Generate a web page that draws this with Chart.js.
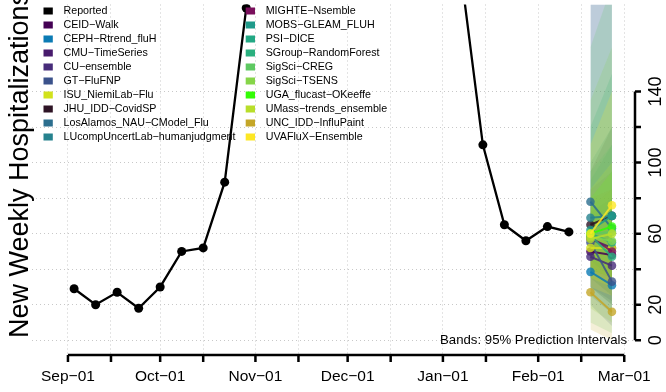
<!DOCTYPE html>
<html>
<head>
<meta charset="utf-8">
<script src="https://cdn.jsdelivr.net/npm/chart.js@4"></script>
<style>
  html, body { margin: 0; padding: 0; background: #fff; }
  #wrap { width: 666px; height: 392px; }
</style>
</head>
<body>
<div id="wrap"><canvas id="fluChart" width="666" height="392"></canvas></div>
<script>
// observed weekly hospitalizations
const reportedDates = [
  '2022-09-03', '2022-09-10', '2022-09-17', '2022-09-24', '2022-10-01', '2022-10-08',
  '2022-10-15', '2022-10-22', '2022-10-29', '2022-11-05', '2022-11-12', '2022-11-19',
  '2022-11-26', '2022-12-03', '2022-12-10', '2022-12-17', '2022-12-24', '2022-12-31',
  '2023-01-07', '2023-01-14', '2023-01-21', '2023-01-28', '2023-02-04', '2023-02-11'];
const reportedValues = [29, 20, 27, 18, 30, 50, 52, 89, 187, 310, 420, 480,
  450, 390, 330, 300, 310, 260, 205, 110, 65, 56, 64, 61];

// forecast targets (1 and 2 weeks ahead)
const forecastDates = ['2023-02-18', '2023-02-25'];

const models = ['CEID-Walk', 'CEPH-Rtrend_fluH', 'CMU-TimeSeries', 'CU-ensemble', 'GT-FluFNP',
  'ISU_NiemiLab-Flu', 'JHU_IDD-CovidSP', 'LosAlamos_NAU-CModel_Flu', 'LUcompUncertLab-humanjudgment',
  'MIGHTE-Nsemble', 'MOBS-GLEAM_FLUH', 'PSI-DICE', 'SGroup-RandomForest', 'SigSci-CREG',
  'SigSci-TSENS', 'UGA_flucast-OKeeffe', 'UMass-trends_ensemble', 'UNC_IDD-InfluPaint',
  'UVAFluX-Ensemble'];
const modelColors = ['#440154', '#0b7bb4', '#481b6d', '#472c7a', '#3b528b', '#d2e21b', '#2e1425',
  '#2c6e8e', '#26828e', '#7a0f5c', '#1f9a8a', '#22a884', '#2ab07f', '#5ec962', '#86d549',
  '#33fc05', '#b8de2a', '#c4a628', '#fde725'];

const pointWk1 = [50, 38.5, 57, 47, 55, 52, 65, 78, 69, 58, 62, 60, 59, 60, 58, 60, 57, 27, 60];
const pointWk2 = [48, 31, 52, 42, 33, 52, 70, 63, 70, 50, 70, 55, 47, 61, 56, 64, 60, 16, 76];
const lowerWk1 = [30, 25, 35, 30, 20, 35, 40, 45, 45, 40, 45, 35, 30, 10, 18, 40, 35, 6, 30];
const upperWk1 = [72, 55, 85, 70, 205, 75, 95, 200, 100, 80, 90, 120, 95, 165, 135, 80, 85, 60, 110];
const lowerWk2 = [22, 15, 25, 20, 8, 30, 35, 35, 35, 30, 40, 25, 20, 4, 10, 35, 30, 0, 25];
const upperWk2 = [80, 52, 95, 75, 230, 85, 120, 225, 120, 85, 110, 150, 110, 200, 165, 95, 100, 55, 140];

// axes
const tickDates = ['2022-09-01', '2022-09-15', '2022-10-01', '2022-10-15', '2022-11-01', '2022-11-15',
  '2022-12-01', '2022-12-15', '2023-01-01', '2023-01-15', '2023-02-01', '2023-02-15', '2023-03-01'];
const tickLabels = ['Sep-01', '', 'Oct-01', '', 'Nov-01', '', 'Dec-01', '', 'Jan-01', '', 'Feb-01', '', 'Mar-01'];
const yTicks = [0, 20, 40, 60, 80, 100, 120, 140];
const yTickLabels = ['0', '20', '', '60', '', '100', '', '140'];

const START = Date.parse('2022-09-01');
const dayOf = s => (Date.parse(s) - START) / 86400000;
const tickDays = tickDates.map(dayOf);
const minus = s => s.replace(/-/g, '\u2212');
const FONT = '"Liberation Sans", Arial, Helvetica, sans-serif';

function rgba(hex, a) {
  const n = parseInt(hex.slice(1), 16);
  return `rgba(${(n >> 16) & 255},${(n >> 8) & 255},${n & 255},${a})`;
}

const [fd1, fd2] = forecastDates.map(dayOf);
const datasets = [];
datasets.push({
  label: 'Reported',
  data: reportedDates.map((d, i) => ({ x: dayOf(d), y: reportedValues[i] })),
  borderColor: '#000',
  backgroundColor: '#000',
  borderWidth: 2.3,
  pointRadius: 4.5,
  pointBorderWidth: 0,
  order: 1
});

// model lines: first model drawn first (so pushed last)
for (let i = models.length - 1; i >= 0; i--) {
  datasets.push({
    label: models[i],
    data: [{ x: fd1, y: pointWk1[i] }, { x: fd2, y: pointWk2[i] }],
    borderColor: rgba(modelColors[i], 0.85),
    backgroundColor: rgba(modelColors[i], 0.8),
    borderWidth: 2,
    pointRadius: 4.3,
    pointBorderWidth: 0,
    order: 2
  });
}

// bands, same stacking as the lines
for (let i = models.length - 1; i >= 0; i--) {
  datasets.push({
    label: models[i] + ' upper',
    data: [{ x: fd1, y: upperWk1[i] }, { x: fd2, y: upperWk2[i] }],
    borderWidth: 0,
    pointRadius: 0,
    backgroundColor: rgba(modelColors[i], 0.18),
    fill: '+1',
    order: 3
  });
  datasets.push({
    label: models[i] + ' lower',
    data: [{ x: fd1, y: lowerWk1[i] }, { x: fd2, y: lowerWk2[i] }],
    borderWidth: 0,
    pointRadius: 0,
    fill: false,
    order: 3
  });
}

const decorations = {
  id: 'decorations',
  afterDraw(chart) {
    const { ctx, chartArea: area, scales: { x, y } } = chart;
    ctx.save();
    ctx.strokeStyle = '#000';
    ctx.fillStyle = '#000';
    ctx.lineWidth = 2.5;

    // bottom axis
    ctx.beginPath();
    ctx.moveTo(x.getPixelForValue(tickDays[0]), area.bottom);
    ctx.lineTo(x.getPixelForValue(tickDays[tickDays.length - 1]), area.bottom);
    tickDays.forEach(d => {
      const px = x.getPixelForValue(d);
      ctx.moveTo(px, area.bottom);
      ctx.lineTo(px, area.bottom + 7);
    });
    ctx.stroke();

    // right axis
    ctx.beginPath();
    ctx.moveTo(area.right, y.getPixelForValue(yTicks[0]));
    ctx.lineTo(area.right, y.getPixelForValue(yTicks[yTicks.length - 1]));
    yTicks.forEach(v => {
      const py = y.getPixelForValue(v);
      ctx.moveTo(area.right, py);
      ctx.lineTo(area.right + 6, py);
    });
    ctx.stroke();

    ctx.font = `18px ${FONT}`;
    ctx.textAlign = 'center';
    ctx.textBaseline = 'middle';
    yTicks.forEach((v, i) => {
      if (!yTickLabels[i]) return;
      ctx.save();
      ctx.translate(area.right + 21, y.getPixelForValue(v));
      ctx.rotate(-Math.PI / 2);
      ctx.fillText(yTickLabels[i], 0, 0);
      ctx.restore();
    });

    // axis title
    ctx.save();
    ctx.font = `27px ${FONT}`;
    ctx.translate(21, 165);
    ctx.rotate(-Math.PI / 2);
    ctx.fillText('New Weekly Hospitalizations', 0, 0);
    ctx.restore();

    // note
    ctx.font = `13.2px ${FONT}`;
    ctx.textAlign = 'right';
    ctx.fillText('Bands: 95% Prediction Intervals', 627, 340);

    // legend
    const names = ['Reported'].concat(models);
    const cols = ['#000000'].concat(modelColors);
    ctx.font = `10.7px ${FONT}`;
    ctx.textAlign = 'left';
    names.forEach((n, i) => {
      const col = Math.floor(i / 10);
      const row = i % 10;
      const bx = col ? 245.7 : 43.5;
      const ty = 11 + row * 14;
      ctx.fillStyle = cols[i];
      ctx.fillRect(bx, ty - 3.5, 9.3, 7);
      ctx.fillStyle = '#000';
      ctx.fillText(minus(n), bx + 20, ty);
    });
    ctx.restore();
  }
};

new Chart(document.getElementById('fluChart'), {
  type: 'line',
  data: { datasets },
  options: {
    responsive: false,
    animation: false,
    layout: { padding: { left: 32, top: 0, right: 0, bottom: 0 } },
    plugins: {
      legend: { display: false },
      tooltip: { enabled: false }
    },
    scales: {
      x: {
        type: 'linear',
        min: -11.7,
        max: 184.5,
        afterBuildTicks: s => { s.ticks = tickDays.map(v => ({ value: v })); },
        afterFit: s => { s.height = 37; },
        grid: { color: '#c8c8c8', lineWidth: 1, drawTicks: false },
        border: { display: false, dash: [1, 3] },
        ticks: {
          autoSkip: false,
          maxRotation: 0,
          padding: 12,
          color: '#000',
          font: { family: FONT, size: 15.5 },
          callback: (v, i) => minus(tickLabels[i])
        }
      },
      y: {
        position: 'right',
        min: -8.3,
        max: 189,
        afterBuildTicks: s => { s.ticks = yTicks.map(v => ({ value: v })); },
        afterFit: s => { s.width = 31; },
        grid: { color: '#c8c8c8', lineWidth: 1, drawTicks: false },
        border: { display: false, dash: [1, 3] },
        ticks: { display: false }
      }
    }
  },
  plugins: [decorations]
});
</script>
</body>
</html>
